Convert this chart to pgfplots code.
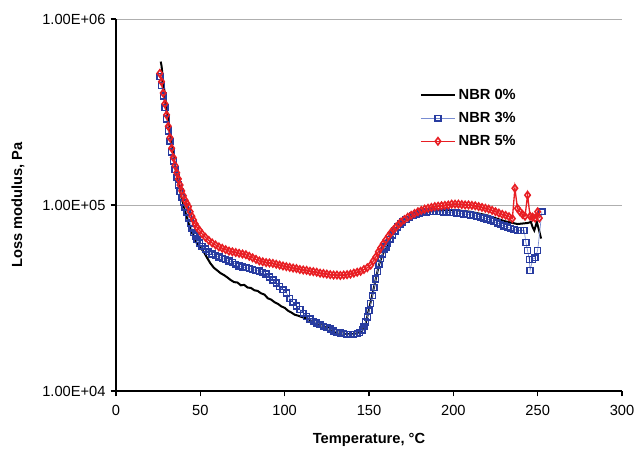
\documentclass[border=0pt,11pt]{standalone}
\usepackage{fontspec}
\setmainfont{Liberation Sans}
\usepackage{pgfplots}
\usepackage{pgfplotstable}
\pgfplotsset{compat=1.18}
\definecolor{nbrblack}{RGB}{0,0,0}
\definecolor{nbrblue}{RGB}{40,60,160}
\definecolor{nbrbluel}{RGB}{120,140,210}
\definecolor{nbrred}{RGB}{232,30,35}
\definecolor{gridgray}{RGB}{175,175,175}

\pgfplotstableread{
T V
26.5 5.9e5
27 5.6e5
28 4.6e5
29 3.9e5
30 3.3e5
31 2.85e5
32 2.45e5
33 2.12e5
34 1.85e5
35 1.63e5
36 1.45e5
37 1.3e5
38 1.18e5
39 1.08e5
40 1.0e5
41 9.3e4
42 8.6e4
43 8.0e4
44 7.5e4
45 7.1e4
46 6.8e4
47 6.5e4
48 6.2e4
50 5.9e4
52 5.6e4
54 5.2e4
56 4.85e4
58 4.6e4
60 4.45e4
62 4.3e4
64 4.2e4
66 4.08e4
68 3.95e4
70 3.85e4
72 3.83e4
74 3.7e4
76 3.72e4
78 3.6e4
80 3.58e4
82 3.48e4
84 3.45e4
86 3.35e4
88 3.3e4
90 3.15e4
92 3.1e4
94 3.0e4
96 2.94e4
98 2.85e4
100 2.8e4
102 2.7e4
104 2.64e4
106 2.57e4
108 2.54e4
110 2.5e4
112 2.47e4
114 2.43e4
116 2.38e4
118 2.33e4
120 2.28e4
125 2.2e4
130 2.08e4
135 2.03e4
140 2.02e4
144 2.05e4
146 2.12e4
148 2.3e4
150 2.75e4
152 3.3e4
154 4.0e4
156 4.8e4
158 5.4e4
160 5.9e4
163 6.7e4
166 7.4e4
170 8.1e4
175 8.7e4
180 9.1e4
190 9.35e4
200 9.4e4
210 9.2e4
220 8.8e4
230 8.2e4
238 7.9e4
244 8.0e4
246 8.1e4
247 7.6e4
248 7.3e4
249.5 8.1e4
251 7.2e4
252 6.6e4
}\tblack

\pgfplotstableread{
T V
26 4.9e5
27 4.4e5
28 3.85e5
29 3.35e5
30 2.9e5
31 2.5e5
32 2.2e5
33 1.93e5
34 1.72e5
35 1.55e5
36 1.4e5
37 1.28e5
38 1.18e5
39 1.1e5
40 1.03e5
41 9.7e4
42 9.1e4
43 8.5e4
44 8.0e4
45 7.5e4
46 7.1e4
47 6.8e4
48 6.5e4
49.5 6.25e4
51 6.0e4
53 5.8e4
55 5.6e4
57 5.45e4
59 5.35e4
61 5.25e4
63 5.15e4
65 5.1e4
67 5.0e4
69 4.9e4
71 4.8e4
73 4.7e4
75 4.65e4
77 4.6e4
79 4.55e4
81 4.5e4
83 4.45e4
85 4.42e4
87 4.35e4
89 4.25e4
91 4.1e4
93 3.95e4
95 3.8e4
97 3.65e4
99 3.5e4
101 3.37e4
103 3.15e4
105 3.0e4
107 2.86e4
109 2.74e4
111 2.62e4
113 2.52e4
115 2.44e4
117 2.37e4
119 2.32e4
121 2.27e4
123 2.23e4
125 2.19e4
127 2.15e4
129 2.1e4
131 2.07e4
133 2.05e4
135 2.03e4
137 2.02e4
139 2.02e4
141 2.02e4
143 2.03e4
144.5 2.06e4
146 2.13e4
147 2.22e4
148 2.35e4
149 2.5e4
150 2.7e4
151 2.95e4
152 3.25e4
153 3.6e4
154 4.0e4
155 4.4e4
156 4.8e4
157 5.15e4
158 5.45e4
159 5.75e4
160 5.95e4
161 6.2e4
162.5 6.55e4
164 6.9e4
165.5 7.25e4
167 7.6e4
168.5 7.9e4
170 8.1e4
172 8.35e4
174 8.6e4
176 8.8e4
178 8.95e4
180 9.05e4
182 9.1e4
184 9.15e4
186 9.2e4
188 9.2e4
190 9.2e4
192 9.2e4
194 9.15e4
196 9.15e4
198 9.1e4
200 9.1e4
202 9.05e4
204 9.0e4
206 8.95e4
208 8.9e4
210 8.85e4
212 8.8e4
214 8.7e4
216 8.6e4
218 8.5e4
220 8.4e4
222 8.3e4
224 8.15e4
226 8.0e4
228 7.85e4
230 7.7e4
232 7.6e4
234 7.5e4
236 7.4e4
238 7.3e4
240 7.3e4
242 7.3e4
243 6.3e4
244 5.7e4
245 5.1e4
245.5 4.45e4
247 5.1e4
248.5 5.2e4
250 5.7e4
252.5 9.2e4
}\tblue

\pgfplotstableread{
T V
26 5.1e5
27 4.6e5
28 4.0e5
29 3.5e5
30 3.05e5
31 2.65e5
32 2.3e5
33 2.02e5
34 1.8e5
35 1.63e5
36 1.49e5
37 1.38e5
38 1.28e5
39 1.19e5
40 1.12e5
41 1.06e5
42 1.02e5
43 9.8e4
44 9.2e4
45 8.7e4
46 8.3e4
47 7.9e4
48 7.6e4
49.5 7.3e4
51 7.0e4
53 6.7e4
55 6.45e4
57 6.25e4
59 6.1e4
61 5.95e4
63 5.85e4
65 5.75e4
67 5.65e4
69 5.6e4
71 5.55e4
73 5.5e4
75 5.45e4
77 5.4e4
79 5.3e4
81 5.2e4
83 5.1e4
85 5.0e4
87 4.95e4
89 4.9e4
91 4.88e4
93 4.85e4
95 4.8e4
97 4.75e4
99 4.7e4
101 4.66e4
103 4.62e4
105 4.58e4
107 4.55e4
109 4.5e4
111 4.47e4
113 4.45e4
115 4.4e4
117 4.38e4
119 4.35e4
121 4.3e4
123 4.28e4
125 4.25e4
127 4.22e4
129 4.2e4
131 4.2e4
133 4.18e4
135 4.2e4
137 4.22e4
139 4.25e4
141 4.3e4
143 4.35e4
145 4.4e4
147 4.5e4
149 4.6e4
151 4.75e4
152.5 5.0e4
154 5.25e4
155.5 5.6e4
157 5.9e4
158.5 6.2e4
160 6.5e4
161.5 6.8e4
163 7.1e4
164.5 7.35e4
166 7.6e4
167.5 7.85e4
169 8.1e4
171 8.35e4
173 8.6e4
175 8.8e4
177 9.0e4
179 9.2e4
181 9.35e4
183 9.5e4
185 9.6e4
187 9.7e4
189 9.8e4
191 9.85e4
193 9.9e4
195 9.95e4
197 1.0e5
199 1.01e5
201 1.01e5
203 1.01e5
205 1.005e5
207 1.0e5
209 1.0e5
211 9.95e4
213 9.9e4
215 9.8e4
217 9.7e4
219 9.6e4
221 9.5e4
223 9.35e4
225 9.2e4
227 9.05e4
229 8.9e4
231 8.8e4
233 8.65e4
235 8.45e4
236.5 1.23e5
238 9.6e4
239.5 9.2e4
241 8.9e4
242.5 8.7e4
244 1.13e5
245.5 8.7e4
247 8.6e4
248.5 8.5e4
250 9.2e4
251 8.5e4
}\tred

\begin{document}
\begin{tikzpicture}[font=\fontsize{11}{13}\selectfont]
\begin{axis}[
  name=ax,
  scale only axis,
  width=379.5pt, height=279pt,
  xmin=0, xmax=300,
  ymode=log, ymin=1e4, ymax=1e6,
  xtick={0,50,100,150,200,250,300},
  ytick={1e4,1e5,1e6},
  yticklabels={1.00E+04,1.00E+05,1.00E+06},
  yminorticks=false,
  /pgf/number format/assume math mode=true,
  axis x line=bottom, axis y line=left,
  axis line style={-, line width=1.5pt, black},
  tick align=outside,
  major tick length=4pt,
  tick style={line width=0.9pt, black},
  ymajorgrids,
  grid style={line width=0.7pt, gridgray},
  tick label style={font=\fontsize{11}{13}\selectfont},
  xticklabel style={yshift=-3pt},
  xlabel={\bfseries Temperature, °C},
  ylabel={\bfseries Loss modulus, Pa},
  xlabel style={at={(axis description cs:0.5,-0.132)}, anchor=center},
  ylabel style={at={(axis description cs:-0.194,0.5)}, anchor=center},
  clip=false,
  legend style={at={(rel axis cs:0.6,0.82)}, anchor=north west, draw=none, fill=none,
    font=\fontsize{11}{13}\selectfont\bfseries, row sep=4pt, inner sep=0pt},
  legend cell align=left,
  legend image code/.code={\draw[mark repeat=2,mark phase=2] plot coordinates {(0cm,0cm) (0.45cm,0cm) (0.9cm,0cm)};},
]
\addplot[nbrblack, line width=1.5pt, no markers] table[x=T,y=V]{\tblack};
\addlegendentry{NBR 0\%}
\addplot[nbrbluel, line width=0.5pt, mark=square, mark size=2.2pt,
  mark options={solid, draw=nbrblue, fill=white, line width=1.1pt}] table[x=T,y=V]{\tblue};
\addlegendentry{NBR 3\%}
\addplot[nbrred, line width=1pt, mark=diamond, mark size=2.7pt,
  mark options={solid, draw=nbrred, fill=white, line width=1.2pt}] table[x=T,y=V]{\tred};
\addlegendentry{NBR 5\%}
\end{axis}
\pgfresetboundingbox
\path[use as bounding box] ([xshift=-87pt,yshift=-47.25pt]ax.south west) rectangle ([xshift=11.25pt,yshift=14.25pt]ax.north east);
\end{tikzpicture}
\end{document}
